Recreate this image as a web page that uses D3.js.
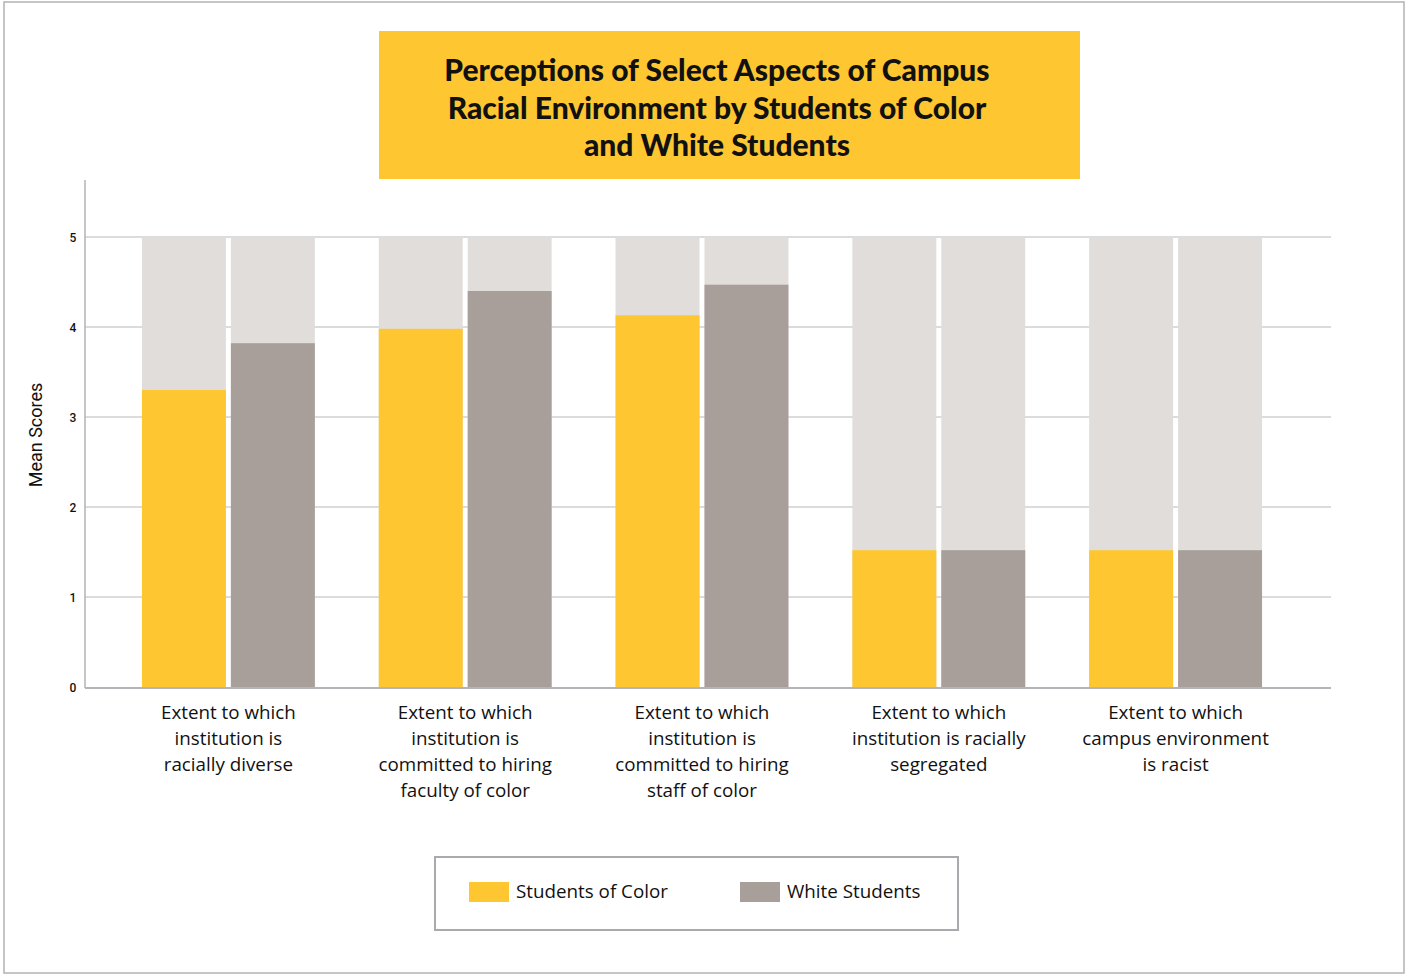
<!DOCTYPE html>
<html>
<head>
<meta charset="utf-8">
<script src="https://cdn.jsdelivr.net/npm/d3@7"></script>
<style>
  body { margin: 0; background: #fff; }
</style>
</head>
<body>
<div id="chart"></div>
<script>
// data
var categories = [
  ["Extent to which", "institution is", "racially diverse"],
  ["Extent to which", "institution is", "committed to hiring", "faculty of color"],
  ["Extent to which", "institution is", "committed to hiring", "staff of color"],
  ["Extent to which", "institution is racially", "segregated"],
  ["Extent to which", "campus environment", "is racist"]
];
var seriesNames = ["Students of Color", "White Students"];
var colorValues = [3.30, 3.98, 4.13, 1.52, 1.52];
var whiteValues = [3.82, 4.40, 4.47, 1.52, 1.52];
var yTicks = [0, 1, 2, 3, 4, 5];
var maxScore = 5;

var colors = ["#fec630", "#a89e9a"];
var bgColor = "#e1dddb";
var labelFont = "'Open Sans', sans-serif";

var svgWidth = 1406, svgHeight = 975;

var svg = d3.select("#chart").append("svg")
  .attr("width", svgWidth)
  .attr("height", svgHeight);

// outer frame
svg.append("rect")
  .attr("x", 4).attr("y", 2)
  .attr("width", 1400).attr("height", 971)
  .attr("fill", "none")
  .attr("stroke", "#b3b3b3")
  .attr("stroke-width", 1.5);

// title box
svg.append("rect")
  .attr("x", 379).attr("y", 31)
  .attr("width", 701).attr("height", 148)
  .attr("fill", "#fec630");

var titleLines = [
  "Perceptions of Select Aspects of Campus",
  "Racial Environment by Students of Color",
  "and White Students"
];
svg.append("g").selectAll("text")
  .data(titleLines)
  .enter().append("text")
  .attr("x", 717)
  .attr("y", (d, i) => 81 + i * 37.5)
  .attr("text-anchor", "middle")
  .style("font-family", "Lato, sans-serif")
  .style("font-size", "30px")
  .style("font-weight", 900)
  .attr("fill", "#111")
  .text(d => d);

var plotLeft = 85, plotRight = 1331, plotTop = 237, plotBottom = 687;

var y = d3.scaleLinear().domain([0, maxScore]).range([plotBottom, plotTop]);

var x0 = d3.scaleBand()
  .domain(d3.range(categories.length))
  .range([110, 1294])
  .paddingInner(0.27)
  .paddingOuter(0.135);

var x1 = d3.scaleBand()
  .domain([0, 1])
  .range([0, x0.bandwidth()])
  .paddingInner(0.056);

// gridlines
svg.append("g").selectAll("line")
  .data(yTicks.filter(d => d > 0))
  .enter().append("line")
  .attr("x1", plotLeft).attr("x2", plotRight)
  .attr("y1", d => y(d)).attr("y2", d => y(d))
  .attr("stroke", "#b8b8b8")
  .attr("stroke-width", 1);

// bars
var rows = categories.map((c, i) => [colorValues[i], whiteValues[i]]);

var groups = svg.append("g").selectAll("g")
  .data(rows)
  .enter().append("g")
  .attr("transform", (d, i) => `translate(${x0(i)},0)`);

groups.selectAll("rect.bg")
  .data(d => d)
  .enter().append("rect")
  .attr("class", "bg")
  .attr("x", (d, j) => x1(j))
  .attr("y", y(maxScore))
  .attr("width", x1.bandwidth())
  .attr("height", y(0) - y(maxScore))
  .attr("fill", bgColor);

groups.selectAll("rect.val")
  .data(d => d)
  .enter().append("rect")
  .attr("class", "val")
  .attr("x", (d, j) => x1(j))
  .attr("y", d => y(d))
  .attr("width", x1.bandwidth())
  .attr("height", d => y(0) - y(d))
  .attr("fill", (d, j) => colors[j]);

// axes lines
svg.append("line")
  .attr("x1", plotLeft).attr("x2", plotLeft)
  .attr("y1", 180).attr("y2", plotBottom + 1)
  .attr("stroke", "#b3b3b8").attr("stroke-width", 1.5);
svg.append("line")
  .attr("x1", plotLeft).attr("x2", plotRight)
  .attr("y1", plotBottom + 1).attr("y2", plotBottom + 1)
  .attr("stroke", "#b3b3b8").attr("stroke-width", 2);

// y tick labels
svg.append("g").selectAll("text")
  .data(yTicks)
  .enter().append("text")
  .attr("x", 73)
  .attr("y", d => y(d) + 5)
  .attr("text-anchor", "middle")
  .style("font-family", "Roboto, sans-serif")
  .style("font-size", "12px")
  .style("font-weight", 500)
  .attr("fill", "#111")
  .text(d => d);

svg.append("text")
  .attr("transform", "translate(42,435) rotate(-90)")
  .attr("text-anchor", "middle")
  .style("font-family", "Roboto, sans-serif")
  .style("font-size", "18px")
  .attr("fill", "#111")
  .text("Mean Scores");

// category labels
var catLabels = svg.append("g").selectAll("text")
  .data(categories)
  .enter().append("text")
  .attr("x", (d, i) => x0(i) + x0.bandwidth() / 2)
  .attr("y", 719)
  .attr("text-anchor", "middle")
  .style("font-family", labelFont)
  .style("font-size", "18.8px")
  .attr("fill", "#111");
catLabels.selectAll("tspan")
  .data(d => d)
  .enter().append("tspan")
  .attr("x", function() { return d3.select(this.parentNode).attr("x"); })
  .attr("dy", (d, i) => i === 0 ? 0 : 26)
  .text(d => d);

// legend
svg.append("rect")
  .attr("x", 435).attr("y", 857)
  .attr("width", 523).attr("height", 73)
  .attr("fill", "none")
  .attr("stroke", "#aaaaae")
  .attr("stroke-width", 2);

var legendX = [469, 740];
var legend = svg.append("g").selectAll("g")
  .data(seriesNames)
  .enter().append("g")
  .attr("transform", (d, i) => `translate(${legendX[i]},882)`);
legend.append("rect")
  .attr("width", 40).attr("height", 20)
  .attr("fill", (d, i) => colors[i]);
legend.append("text")
  .attr("x", 47).attr("y", 16)
  .style("font-family", labelFont)
  .style("font-size", "18.8px")
  .attr("fill", "#111")
  .text(d => d);
</script>
</body>
</html>
